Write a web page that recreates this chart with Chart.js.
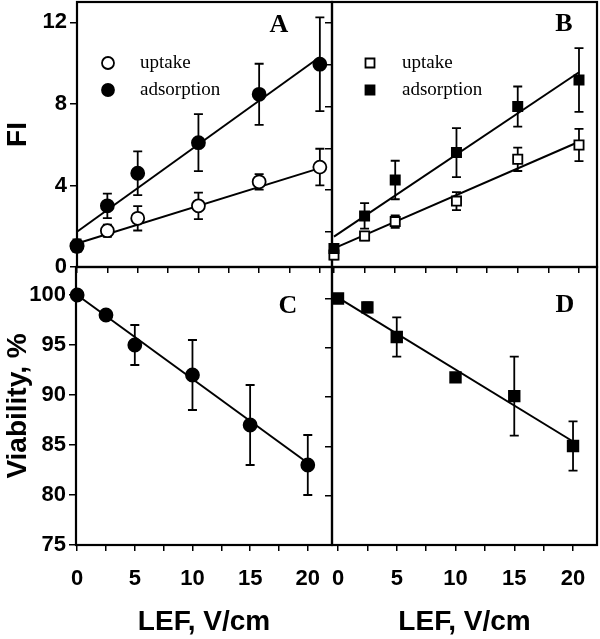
<!DOCTYPE html>
<html>
<head>
<meta charset="utf-8">
<script src="https://cdn.jsdelivr.net/npm/chart.js@4.4.1/dist/chart.umd.min.js"></script>
<style>
  body { margin: 0; background: #fff; }
  #wrap { position: relative; width: 600px; height: 639px; }
  canvas { position: absolute; }
</style>
</head>
<body>
<div id="wrap">
  <canvas id="pa" width="334" height="280" style="left:0;top:0"></canvas>
  <canvas id="pb" width="282" height="280" style="left:318px;top:0"></canvas>
  <canvas id="pc" width="334" height="384" style="left:0;top:255px"></canvas>
  <canvas id="pd" width="282" height="384" style="left:318px;top:255px"></canvas>
</div>
<script>
// field strength (LEF, V/cm)
const lef = [0, 2.5, 5, 10, 15, 20];
const fitX = [0, 20];

// A - FI, circles
const upA = [1.0, 1.78, 2.39, 3.0, 4.18, 4.9];
const upAErr = [0.25, 0.3, 0.6, 0.65, 0.38, 0.9];
const adsA = [1.05, 3.0, 4.6, 6.1, 8.47, 9.95];
const adsAErr = [0.3, 0.6, 1.07, 1.4, 1.5, 2.3];
const upAFit = [1.15, 4.85];
const adsAFit = [1.73, 10.3];

// B - FI, squares
const upB = [0.9, 1.81, 2.5, 3.48, 5.48, 6.16];
const upBErr = [0.2, 0.2, 0.3, 0.43, 0.56, 0.77];
const adsB = [1.22, 2.77, 4.49, 5.8, 8.0, 9.27];
const adsBErr = [0.2, 0.61, 0.92, 1.17, 0.96, 1.52];
const upBFit = [1.22, 6.32];
const adsBFit = [1.78, 9.64];

// C - viability, circles
const viaC = [100, 98, 95, 92, 87, 83];
const viaCErr = [0.3, 0.3, 2, 3.5, 4, 3];
const viaCFit = [100, 83.2];

// D - viability, squares
const viaD = [100, 99.1, 96.1, 92.0, 90.1, 85.05];
const viaDErr = [0.3, 0.5, 2.0, 0.3, 4.0, 2.5];
const viaDFit = [100.1, 85.5];

// ticks
const xTicks = [0, 2.5, 5, 7.5, 10, 12.5, 15, 17.5, 20];
const fiTicksA = [0, 4, 8, 12];
const fiTicksB = [2, 4, 6, 8, 10, 12];
const viaTicks = [75, 80, 85, 90, 95, 100];

Chart.defaults.font.family = '"Liberation Sans", Arial, sans-serif';
Chart.defaults.color = '#000';

function pts(xs, ys) {
  return xs.map((x, i) => ({ x: x, y: ys[i] }));
}

// error bars, under the markers
const errorBars = {
  id: 'errorBars',
  beforeDatasetsDraw(chart) {
    const ctx = chart.ctx, ys = chart.scales.y;
    ctx.save();
    ctx.strokeStyle = '#000';
    ctx.lineWidth = 1.8;
    chart.data.datasets.forEach((ds, i) => {
      if (!ds.errors) return;
      chart.getDatasetMeta(i).data.forEach((pt, j) => {
        const v = ds.data[j].y, e = ds.errors[j];
        const t = ys.getPixelForValue(v + e), b = ys.getPixelForValue(v - e);
        ctx.beginPath();
        ctx.moveTo(pt.x, t); ctx.lineTo(pt.x, b);
        ctx.moveTo(pt.x - 4.5, t); ctx.lineTo(pt.x + 4.5, t);
        ctx.moveTo(pt.x - 4.5, b); ctx.lineTo(pt.x + 4.5, b);
        ctx.stroke();
      });
    });
    ctx.restore();
  }
};

// frame, panel letter and legend
const panel = {
  id: 'panel',
  beforeDatasetsDraw(chart) {
    const { ctx, chartArea: a } = chart;
    ctx.save();
    ctx.strokeStyle = '#000';
    ctx.lineWidth = 2.2;
    ctx.strokeRect(a.left, a.top, a.right - a.left, a.bottom - a.top);
    ctx.restore();
  },
  afterDraw(chart, args, opts) {
    const { ctx, chartArea: a } = chart;
    ctx.save();
    ctx.fillStyle = '#000';
    ctx.strokeStyle = '#000';
    ctx.textAlign = 'center';
    ctx.textBaseline = 'middle';
    ctx.font = 'bold 26px "Liberation Serif", serif';
    ctx.fillText(opts.letter, a.right - opts.letterDx, a.top + opts.letterDy);
    ctx.font = '19px "Liberation Serif", serif';
    ctx.textAlign = 'left';
    ctx.lineWidth = 1.8;
    (opts.legend || []).forEach(it => {
      const x = a.left + it.dx, y = a.top + it.dy;
      ctx.beginPath();
      if (it.shape === 'circle') ctx.arc(x, y, 6, 0, Math.PI * 2);
      else ctx.rect(x - 4.5, y - 4.5, 9, 9);
      ctx.fillStyle = it.filled ? '#000' : '#fff';
      ctx.fill();
      ctx.stroke();
      ctx.fillStyle = '#000';
      ctx.fillText(it.text, x + 32, y);
    });
    ctx.restore();
  }
};

const tickGrid = { drawOnChartArea: false, drawTicks: true, tickLength: 6, color: '#000', lineWidth: 1.5 };
const tickFont = { size: 22, weight: 'bold' };
const titleFont = { size: 28, weight: 'bold' };

function setTicks(list) {
  return s => { s.ticks = list.map(v => ({ value: v })); };
}
function fixSize(prop, n) {
  return s => {
    s[prop] = n;
    s.paddingTop = 0; s.paddingBottom = 0; s.paddingLeft = 0; s.paddingRight = 0;
  };
}

function pointSet(ys, errs, shape, r, filled) {
  return {
    data: pts(lef, ys),
    errors: errs,
    pointStyle: shape,
    pointRadius: r,
    pointBorderWidth: 1.8,
    pointBackgroundColor: filled ? '#000' : '#fff',
    pointBorderColor: '#000',
    showLine: false,
    clip: false
  };
}
function fitSet(ys) {
  return {
    data: pts(fitX, ys),
    showLine: true,
    pointRadius: 0,
    borderColor: '#000',
    borderWidth: 2,
    clip: false
  };
}

function makeChart(id, datasets, cfg) {
  new Chart(id, {
    type: 'scatter',
    data: { datasets: datasets },
    plugins: [panel, errorBars],
    options: {
      responsive: false,
      animation: false,
      events: [],
      layout: { autoPadding: false, padding: cfg.padding },
      plugins: {
        legend: { display: false },
        tooltip: { enabled: false },
        panel: cfg.panel
      },
      scales: {
        x: {
          type: 'linear',
          min: cfg.xMin,
          max: cfg.xMax,
          afterBuildTicks: setTicks(xTicks),
          afterFit: fixSize('height', cfg.xHeight),
          grid: tickGrid,
          border: { display: false },
          ticks: {
            display: cfg.xLabels,
            font: tickFont,
            padding: 15,
            maxRotation: 0,
            autoSkip: false,
            callback: v => (v % 5 === 0 ? v : '')
          },
          title: { display: cfg.xLabels, text: 'LEF, V/cm', font: titleFont, padding: 0 }
        },
        y: {
          type: 'linear',
          min: cfg.yMin,
          max: cfg.yMax,
          afterBuildTicks: setTicks(cfg.yTicks),
          afterFit: fixSize('width', cfg.yWidth),
          grid: Object.assign({}, tickGrid, { tickLength: 7 }),
          border: { display: false },
          ticks: { display: !!cfg.yTitle, font: tickFont, padding: 3 },
          title: { display: !!cfg.yTitle, text: cfg.yTitle, font: titleFont, padding: 1 }
        }
      }
    }
  });
}

// A
makeChart('pa', [
  pointSet(adsA, adsAErr, 'circle', 6.5, true),
  pointSet(upA, upAErr, 'circle', 6.5, false),
  fitSet(adsAFit),
  fitSet(upAFit)
], {
  padding: { top: 2, right: 2, left: 0, bottom: 0 },
  xMin: 0, xMax: 21, xHeight: 13, xLabels: false,
  yMin: 0, yMax: 13, yTicks: fiTicksA, yWidth: 77, yTitle: 'FI',
  panel: {
    letter: 'A', letterDx: 53, letterDy: 23,
    legend: [
      { shape: 'circle', filled: false, text: 'uptake', dx: 31, dy: 61 },
      { shape: 'circle', filled: true, text: 'adsorption', dx: 31, dy: 88 }
    ]
  }
});

// B
makeChart('pb', [
  pointSet(adsB, adsBErr, 'rect', 6.5, true),
  pointSet(upB, upBErr, 'rect', 6.5, false),
  fitSet(adsBFit),
  fitSet(upBFit)
], {
  padding: { top: 2, right: 3, left: 0, bottom: 0 },
  xMin: -0.16, xMax: 21.47, xHeight: 13, xLabels: false,
  yMin: 0.33, yMax: 13, yTicks: fiTicksB, yWidth: 14, yTitle: '',
  panel: {
    letter: 'B', letterDx: 33, letterDy: 22,
    legend: [
      { shape: 'rect', filled: false, text: 'uptake', dx: 38, dy: 61 },
      { shape: 'rect', filled: true, text: 'adsorption', dx: 38, dy: 88 }
    ]
  }
});

// C
makeChart('pc', [
  pointSet(viaC, viaCErr, 'circle', 6.5, true),
  fitSet(viaCFit)
], {
  padding: { top: 12, right: 2, left: 0, bottom: 0 },
  xMin: -0.1, xMax: 22.1, xHeight: 94, xLabels: true,
  yMin: 75, yMax: 102.8, yTicks: viaTicks, yWidth: 76, yTitle: 'Viability, %',
  panel: { letter: 'C', letterDx: 44, letterDy: 39 }
});

// D
makeChart('pd', [
  pointSet(viaD, viaDErr, 'rect', 7.5, true),
  fitSet(viaDFit)
], {
  padding: { top: 12, right: 3, left: 0, bottom: 0 },
  xMin: -0.51, xMax: 22.04, xHeight: 94, xLabels: true,
  yMin: 75, yMax: 103.2, yTicks: viaTicks, yWidth: 14, yTitle: '',
  panel: { letter: 'D', letterDx: 32, letterDy: 38 }
});
</script>
</body>
</html>
